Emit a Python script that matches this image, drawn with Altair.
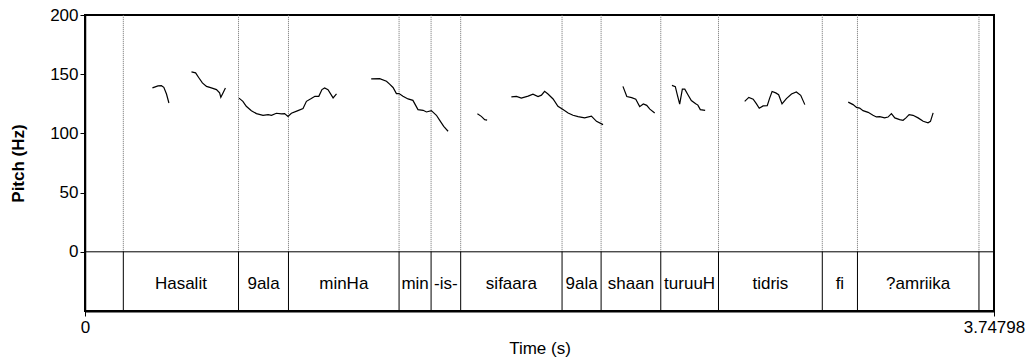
import altair as alt
import pandas as pd

FONT = "Liberation Sans"
T_END = 3.74798

# Interval tier: boundary times (s) and the word in each interval
boundaries = [0.158, 0.633, 0.839, 1.295, 1.427, 1.549, 1.967, 2.128,
              2.374, 2.612, 3.040, 3.185, 3.686]
words = ["", "Hasalit", "9ala", "minHa", "min", "-is-", "sifaara", "9ala",
         "shaan", "turuuH", "tidris", "fi", "?amriika", ""]

# Voiced stretches of the pitch track: time (s) and F0 (Hz)
seg1_t = [0.278, 0.301, 0.315, 0.325, 0.336, 0.346]
seg1_f = [138.4, 140.1, 140.3, 138.9, 133.3, 125.7]

seg2_t = [0.439, 0.456, 0.470, 0.484, 0.501, 0.521, 0.542, 0.555, 0.560, 0.569, 0.579]
seg2_f = [151.9, 151.1, 146.8, 142.6, 139.7, 138.4, 137.0, 134.2, 130.5, 134.2, 138.4]

seg3_t = [0.635, 0.651, 0.665, 0.686, 0.707, 0.734, 0.755, 0.769, 0.789, 0.810,
          0.823, 0.837, 0.851, 0.878, 0.899, 0.913, 0.933, 0.948, 0.964, 0.977,
          0.988, 1.002, 1.023, 1.037]
seg3_f = [129.8, 127.1, 122.9, 119.2, 116.7, 115.3, 115.9, 115.3, 117.0, 116.5,
          116.7, 114.4, 117.0, 119.2, 121.0, 127.1, 129.4, 131.3, 131.3, 137.0,
          138.4, 137.0, 130.0, 133.3]

seg4_t = [1.180, 1.215, 1.243, 1.256, 1.270, 1.284, 1.295, 1.311, 1.332, 1.352,
          1.373, 1.394, 1.408, 1.428, 1.449, 1.462, 1.479, 1.497]
seg4_f = [146.0, 146.2, 144.0, 141.6, 138.8, 133.6, 133.6, 131.3, 129.1, 127.9,
          120.1, 119.5, 118.1, 119.2, 115.3, 111.2, 106.0, 101.8]

seg5_t = [1.618, 1.634, 1.648, 1.658]
seg5_f = [116.5, 114.4, 111.6, 111.2]

seg6_t = [1.758, 1.779, 1.799, 1.827, 1.847, 1.868, 1.882, 1.895, 1.909, 1.930,
          1.950, 1.971, 1.992, 2.012, 2.033, 2.060, 2.088, 2.109, 2.136]
seg6_f = [130.8, 131.3, 129.8, 131.5, 133.2, 131.1, 132.3, 135.5, 133.3, 129.1,
          122.9, 120.1, 117.3, 115.3, 114.2, 113.1, 114.6, 110.2, 107.4]

seg7_t = [2.218, 2.234, 2.254, 2.271, 2.287, 2.302, 2.316, 2.329, 2.349]
seg7_f = [139.7, 131.1, 130.2, 128.9, 122.6, 124.9, 123.7, 120.5, 117.3]

seg8_t = [2.420, 2.434, 2.442, 2.452, 2.463, 2.473, 2.486, 2.500, 2.518, 2.527,
          2.537, 2.557]
seg8_f = [140.6, 139.5, 132.7, 124.7, 137.4, 137.4, 132.7, 127.7, 125.1, 123.9,
          120.1, 119.4]

seg9_t = [2.720, 2.737, 2.755, 2.768, 2.780, 2.796, 2.813, 2.823, 2.833, 2.848,
          2.860, 2.874, 2.892, 2.913, 2.933, 2.951, 2.968]
seg9_f = [127.1, 130.4, 128.9, 125.1, 121.2, 123.2, 123.5, 129.8, 135.4, 134.2,
          132.7, 124.9, 129.4, 133.3, 135.0, 132.2, 124.3]

seg10_t = [3.147, 3.167, 3.181, 3.194, 3.208, 3.229, 3.249, 3.263, 3.277, 3.297,
           3.311, 3.325, 3.339, 3.359, 3.373, 3.385, 3.398, 3.414, 3.435, 3.456,
           3.476, 3.486, 3.497]
seg10_f = [126.4, 124.3, 122.0, 121.4, 119.2, 117.8, 115.3, 113.9, 114.2, 113.1,
           113.8, 116.7, 113.1, 111.6, 111.1, 113.1, 115.9, 115.3, 113.1, 110.2,
           108.9, 110.2, 117.3]

segments = [(seg1_t, seg1_f), (seg2_t, seg2_f), (seg3_t, seg3_f), (seg4_t, seg4_f),
            (seg5_t, seg5_f), (seg6_t, seg6_f), (seg7_t, seg7_f), (seg8_t, seg8_f),
            (seg9_t, seg9_f), (seg10_t, seg10_f)]

pitch_rows = []
for i, (ts, fs) in enumerate(segments):
    for t, f in zip(ts, fs):
        pitch_rows.append({"seg": i, "t": t, "f0": f})
pitch_df = pd.DataFrame(pitch_rows)

bound_df = pd.DataFrame({"t": boundaries})

edges = [0.0] + boundaries + [T_END]
label_df = pd.DataFrame({
    "mid": [(a + b) / 2 for a, b in zip(edges[:-1], edges[1:])],
    "word": words,
})
label_df = label_df[label_df["word"] != ""]

# Shared scales: the tier occupies the band below 0 Hz
x_scale = alt.Scale(domain=[0, T_END], nice=False, zero=False)
y_scale = alt.Scale(domain=[-50, 200], nice=False, zero=False)

x_axis = alt.Axis(
    values=[0, T_END], labelExpr="format(datum.value, '.5~f')",
    title="Time (s)", grid=False, tickSize=5, labelPadding=3,
    labelFont=FONT, labelFontSize=17, labelColor="black",
    titleFont=FONT, titleFontSize=17, titleFontWeight="normal", titleColor="black",
    titlePadding=5, labelFlush=False, labelOverlap=False, labelBound=False,
    domainColor="black", domainWidth=2, tickColor="black",
)
y_axis = alt.Axis(
    values=[0, 50, 100, 150, 200], title="Pitch (Hz)", grid=False, tickSize=5,
    labelPadding=2, labelFont=FONT, labelFontSize=17, labelColor="black",
    titleFont=FONT, titleFontSize=17, titleFontWeight="bold", titleColor="black",
    titlePadding=22, domainColor="black", domainWidth=1.5, tickColor="black",
)

X = lambda field: alt.X(field, type="quantitative", scale=x_scale, axis=x_axis)
Y = lambda field: alt.Y(field, type="quantitative", scale=y_scale, axis=y_axis)

pitch = alt.Chart(pitch_df).mark_line(color="black", strokeWidth=1.2).encode(
    x=X("t"), y=Y("f0"), detail="seg:N"
)

dotted = alt.Chart(bound_df).mark_rule(
    color="#6f6f6f", strokeWidth=1, strokeDash=[1, 1]
).encode(x=X("t"), y=alt.YDatum(0, scale=y_scale, axis=y_axis), y2=alt.datum(200))

solid = alt.Chart(bound_df).mark_rule(color="black", strokeWidth=1).encode(
    x=X("t"), y=alt.YDatum(-50, scale=y_scale, axis=y_axis), y2=alt.datum(0)
)

zero_line = alt.Chart(pd.DataFrame({"v": [0]})).mark_rule(
    color="black", strokeWidth=1
).encode(y=Y("v"))

labels = alt.Chart(label_df).mark_text(
    font=FONT, fontSize=17, color="black", baseline="middle", align="center"
).encode(x=X("mid"), y=alt.YDatum(-27, scale=y_scale, axis=y_axis), text="word:N")

chart = alt.layer(dotted, solid, zero_line, pitch, labels).properties(
    width=909, height=296,
    padding={"left": 85, "top": 15, "right": 36, "bottom": 49},
    autosize=alt.AutoSizeParams(type="none"),
    background="white",
).configure_view(stroke="black", strokeWidth=2)

chart.save("out.html", embed_options={"renderer": "svg", "actions": False})
